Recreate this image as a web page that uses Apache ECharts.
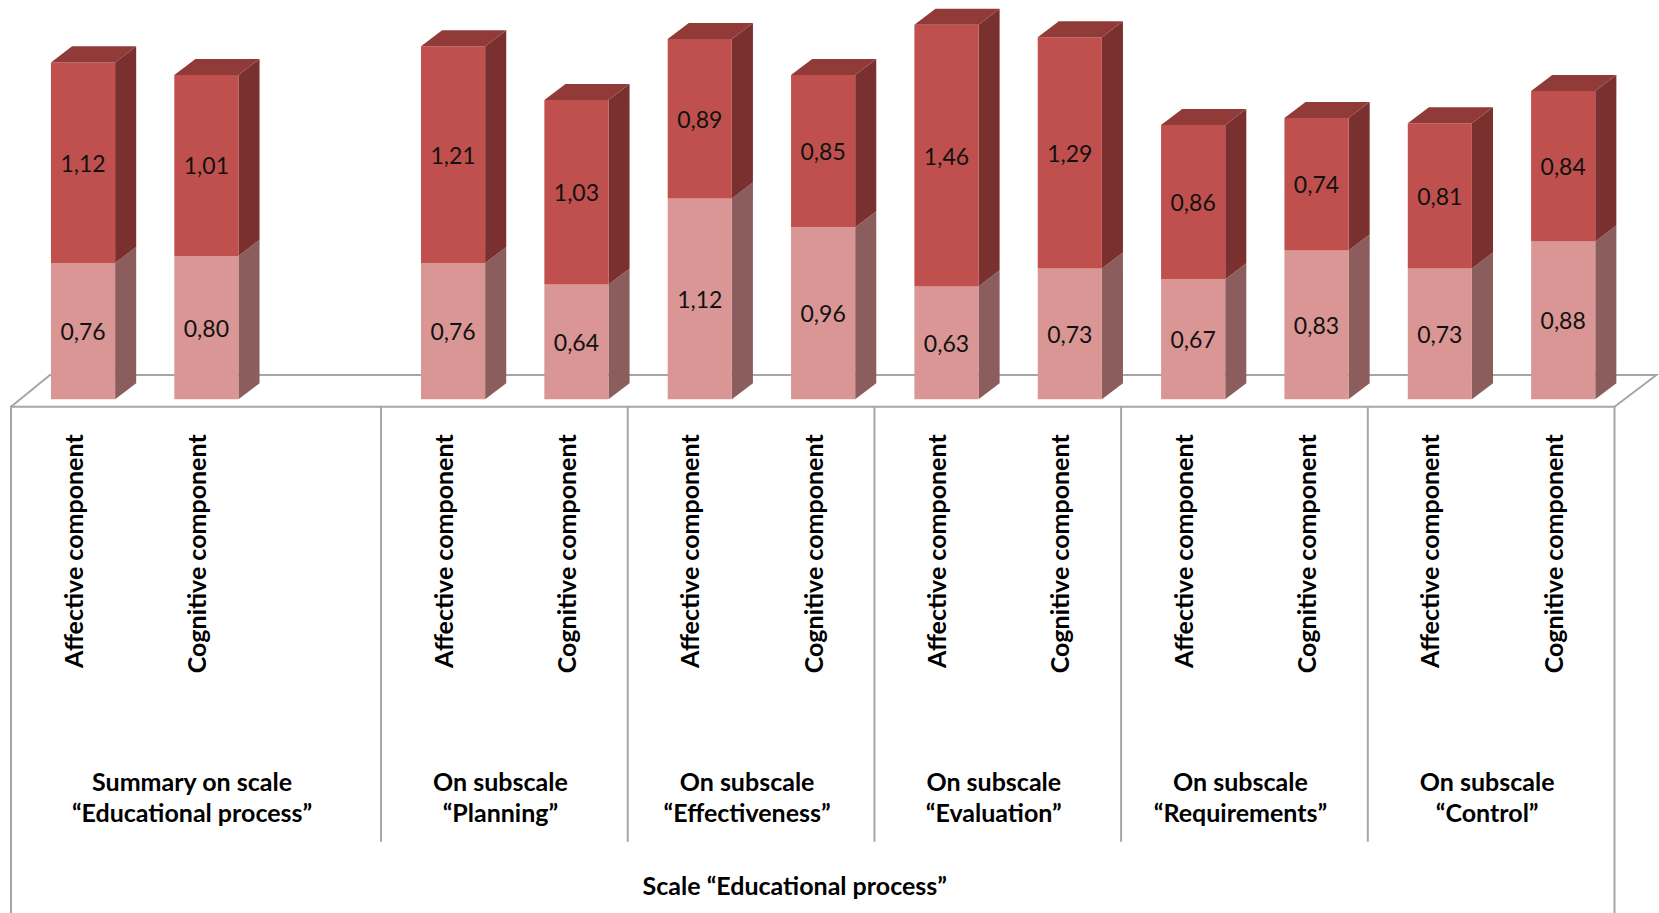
<!DOCTYPE html>
<html>
<head>
<meta charset="utf-8">
<script src="https://cdn.jsdelivr.net/npm/echarts@6/dist/echarts.min.js"></script>
<style>
html,body{margin:0;padding:0;background:#ffffff;}
#chart{width:1659px;height:913px;}
</style>
</head>
<body>
<div id="chart"></div>
<script>
// ---- data ----
const components = [
  'Affective component', 'Cognitive component', '',
  'Affective component', 'Cognitive component',
  'Affective component', 'Cognitive component',
  'Affective component', 'Cognitive component',
  'Affective component', 'Cognitive component',
  'Affective component', 'Cognitive component'
];
const lowerValues = [0.76, 0.80, null, 0.76, 0.64, 1.12, 0.96, 0.63, 0.73, 0.67, 0.83, 0.73, 0.88];
const upperValues = [1.12, 1.01, null, 1.21, 1.03, 0.89, 0.85, 1.46, 1.29, 0.86, 0.74, 0.81, 0.84];
const groupNames = [
  'Summary on scale\n“Educational process”',
  'On subscale\n“Planning”',
  'On subscale\n“Effectiveness”',
  'On subscale\n“Evaluation”',
  'On subscale\n“Requirements”',
  'On subscale\n“Control”'
];
const groupStart = [0, 3, 5, 7, 9, 11];
const groupEnd = [3, 5, 7, 9, 11, 13];
const scaleName = 'Scale “Educational process”';

// ---- styling ----
const FONT = 'Lato, "Open Sans", sans-serif';
const LINE = '#a6a6a6';
const lowerColors = { front: '#da9694', side: '#8b5e5d', top: '#b87876' };
const upperColors = { front: '#c0504d', side: '#7a302e', top: '#913b38' };

function fmt(v) { return v.toFixed(2).replace('.', ','); }

function barRenderer(colors, drawTop) {
  return function (params, api) {
    const cat = api.value(0);
    const base = api.value(1);
    const val = api.value(2);
    if (val == null || isNaN(val)) return;
    const pb = api.coord([cat, base]);
    const pt = api.coord([cat, base + val]);
    const band = api.size([1, 0])[0];
    const w = band * 0.52;
    const cx = pb[0] + band * 0.084;
    const x0 = cx - w / 2, x1 = cx + w / 2;
    const yb = pb[1], yt = pt[1];
    const dx = band * 0.171, dy = band * 0.13;
    const children = [
      { type: 'polygon', shape: { points: [[x1, yb], [x1 + dx, yb - dy], [x1 + dx, yt - dy], [x1, yt]] },
        style: { fill: colors.side } },
      { type: 'rect', shape: { x: x0, y: yt, width: w, height: yb - yt },
        style: { fill: colors.front } }
    ];
    if (drawTop) {
      children.push({ type: 'polygon', shape: { points: [[x0, yt], [x1, yt], [x1 + dx, yt - dy], [x0 + dx, yt - dy]] },
        style: { fill: colors.top } });
    }
    children.push({ type: 'text', x: cx, y: (yb + yt) / 2,
      style: { text: fmt(val), fill: '#111', font: '23px ' + FONT, align: 'center', verticalAlign: 'middle' } });
    return { type: 'group', children: children };
  };
}

const lowerData = [], upperData = [];
components.forEach(function (c, i) {
  if (lowerValues[i] != null) {
    lowerData.push([i, 0, lowerValues[i]]);
    upperData.push([i, lowerValues[i], upperValues[i]]);
  }
});
const groupData = groupNames.map(function (n, i) { return [groupStart[i], groupEnd[i], i]; });

function frameRenderer(params, api) {
  const band = api.size([1, 0])[0];
  const pL = api.coord([0, 0]);
  const pR = api.coord([components.length - 1, 0]);
  const xl = pL[0] - band / 2, xr = pR[0] + band / 2;
  const yf = pL[1] + 7.4;
  const fdy = 31.7;
  const H = api.getHeight();
  const midX = (xl + xr) / 2 - 18;
  return { type: 'group', children: [
    { type: 'polyline', shape: { points: [[xl, H], [xl, yf], [xr, yf], [xr, H]] },
      style: { stroke: LINE, lineWidth: 2, fill: null } },
    { type: 'polyline', shape: { points: [[xl, yf], [xl + 39, yf - fdy], [xr + 42, yf - fdy], [xr, yf]] },
      style: { stroke: LINE, lineWidth: 2, fill: null } },
    { type: 'text', x: midX, y: yf + 478,
      style: { text: scaleName, fill: '#000', font: 'bold 25px ' + FONT, align: 'center', verticalAlign: 'middle' } }
  ] };
}

function groupRenderer(params, api) {
  const s = api.value(0), e = api.value(1), gi = api.value(2);
  const band = api.size([1, 0])[0];
  const base = api.coord([s, 0]);
  const xs = base[0] - band / 2;
  const xe = xs + (e - s) * band;
  const yf = base[1] + 7.4;
  const children = [];
  if (e < components.length) {
    children.push({ type: 'line', shape: { x1: xe, y1: yf, x2: xe, y2: yf + 435 },
      style: { stroke: LINE, lineWidth: 2 } });
  }
  children.push({ type: 'text', x: (xs + xe) / 2 - 4, y: yf + 390,
    style: { text: groupNames[gi], fill: '#000', font: 'bold 25px ' + FONT, lineHeight: 31.6,
      align: 'center', verticalAlign: 'middle' } });
  return { type: 'group', children: children };
}

const chart = echarts.init(document.getElementById('chart'), null, { renderer: 'svg' });
chart.setOption({
  animation: false,
  backgroundColor: '#ffffff',
  grid: { left: 11, right: 44.5, top: 5.06, bottom: 513.7, containLabel: false },
  xAxis: {
    type: 'category',
    data: components,
    boundaryGap: true,
    axisLine: { show: false },
    axisTick: { show: false },
    splitLine: { show: false },
    axisLabel: {
      interval: 0, rotate: 90, margin: 35,
      fontFamily: FONT, fontWeight: 'bold', fontSize: 25, color: '#000',
      padding: [14, 0, 0, 0]
    }
  },
  yAxis: { type: 'value', min: 0, max: 2.2, show: false },
  series: [
    { type: 'custom', name: 'frame', z: 1, data: [[0]], renderItem: frameRenderer, silent: true },
    { type: 'custom', name: 'groups', z: 1, data: groupData, renderItem: groupRenderer, silent: true },
    { type: 'custom', name: 'lower', z: 2, data: lowerData, renderItem: barRenderer(lowerColors, false) },
    { type: 'custom', name: 'upper', z: 3, data: upperData, renderItem: barRenderer(upperColors, true) }
  ]
});
</script>
</body>
</html>
